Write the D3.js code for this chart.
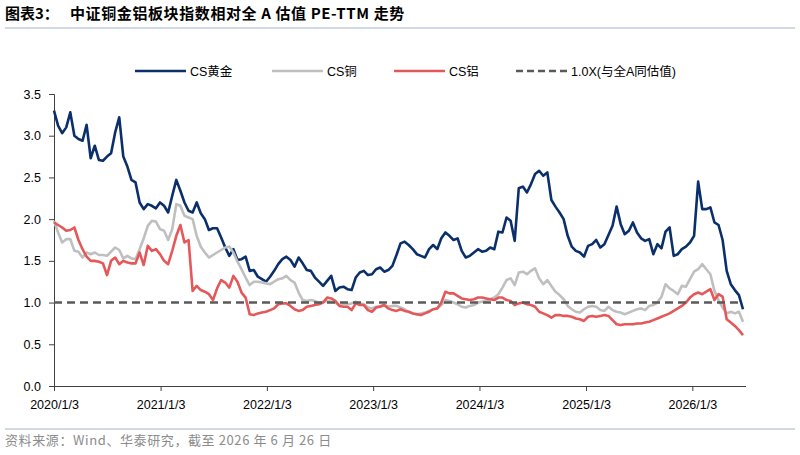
<!DOCTYPE html>
<html>
<head>
<meta charset="utf-8">
<script src="https://cdn.jsdelivr.net/npm/d3@7"></script>
<style>
  html, body { margin: 0; padding: 0; background: #fff; }
  svg { display: block; }
</style>
</head>
<body>
<div id="chart"></div>
<script>
// Relative PE-TTM vs. all-A, sampled every two weeks from 2020/1/3 to 2026/6/26
const startDate = new Date(2020, 0, 3);
const stepDays = 14;

const gold = [
  3.30,3.12,3.03,3.10,3.28,3.00,2.96,2.94,3.13,2.73,
  2.88,2.71,2.70,2.75,2.79,3.04,3.22,2.75,2.63,2.47,
  2.44,2.20,2.12,2.18,2.16,2.13,2.20,2.16,2.08,2.28,
  2.47,2.34,2.20,2.10,2.08,2.20,2.07,2.00,1.87,1.89,
  1.89,1.78,1.66,1.56,1.64,1.51,1.52,1.55,1.38,1.39,
  1.31,1.28,1.25,1.31,1.38,1.46,1.52,1.55,1.51,1.43,
  1.54,1.47,1.39,1.38,1.30,1.25,1.20,1.26,1.32,1.14,
  1.18,1.19,1.16,1.15,1.30,1.36,1.38,1.33,1.34,1.40,
  1.42,1.37,1.39,1.44,1.57,1.71,1.73,1.69,1.64,1.58,
  1.56,1.54,1.64,1.69,1.64,1.77,1.84,1.80,1.75,1.77,
  1.62,1.54,1.56,1.60,1.64,1.61,1.62,1.66,1.64,1.85,
  1.84,2.02,1.98,1.74,2.37,2.39,2.32,2.42,2.54,2.58,
  2.52,2.56,2.23,2.15,2.08,2.00,1.80,1.67,1.62,1.60,
  1.55,1.68,1.70,1.75,1.66,1.70,1.81,1.92,2.15,1.94,
  1.82,1.86,1.96,1.84,1.77,1.74,1.76,1.58,1.70,1.65,
  1.85,1.90,1.56,1.58,1.64,1.67,1.72,1.80,2.45,2.12,
  2.12,2.14,1.96,1.93,1.75,1.38,1.22,1.15,1.09,0.92
];

const copper = [
  1.98,1.84,1.72,1.76,1.76,1.62,1.61,1.54,1.60,1.58,
  1.60,1.57,1.57,1.56,1.61,1.66,1.63,1.53,1.56,1.53,
  1.52,1.64,1.77,1.92,1.98,1.97,1.88,1.86,1.75,1.88,
  2.18,2.16,2.04,2.02,2.00,1.80,1.67,1.60,1.54,1.57,
  1.60,1.63,1.66,1.67,1.60,1.49,1.40,1.30,1.21,1.25,
  1.25,1.24,1.23,1.22,1.25,1.28,1.29,1.32,1.27,1.24,
  1.12,1.03,1.02,1.03,1.02,0.99,1.01,1.02,1.01,1.00,
  0.97,0.98,0.98,0.99,1.01,0.99,0.98,0.94,0.93,0.95,
  0.96,0.97,0.95,0.96,0.96,0.94,0.92,0.89,0.87,0.86,
  0.87,0.88,0.90,0.92,0.93,0.97,1.03,1.02,1.00,0.98,
  0.95,0.94,0.96,0.97,1.00,1.01,1.02,1.04,1.06,1.10,
  1.18,1.27,1.29,1.21,1.36,1.37,1.34,1.38,1.41,1.29,
  1.22,1.27,1.20,1.13,1.09,1.04,0.96,0.92,0.89,0.88,
  0.92,0.95,0.96,0.95,0.91,0.90,0.95,0.91,0.89,0.88,
  0.86,0.88,0.90,0.92,0.93,0.91,0.96,0.97,1.00,1.07,
  1.22,1.17,1.14,1.10,1.20,1.19,1.28,1.37,1.40,1.46,
  1.40,1.34,1.14,1.03,0.94,0.87,0.89,0.87,0.89,0.77
];

const aluminum = [
  1.96,1.93,1.90,1.86,1.87,1.90,1.75,1.64,1.55,1.50,
  1.50,1.49,1.47,1.33,1.50,1.54,1.46,1.50,1.48,1.47,
  1.47,1.60,1.45,1.68,1.62,1.64,1.58,1.50,1.46,1.62,
  1.80,1.93,1.72,1.75,1.14,1.20,1.15,1.13,1.10,1.03,
  1.17,1.27,1.24,1.18,1.32,1.25,1.12,1.06,0.86,0.85,
  0.87,0.88,0.89,0.91,0.93,0.98,0.99,0.99,0.96,0.92,
  0.90,0.91,0.95,0.96,0.97,0.98,1.00,1.06,1.05,1.02,
  0.96,0.95,0.95,0.91,0.99,0.97,0.97,0.91,0.89,0.94,
  0.95,0.97,0.93,0.91,0.90,0.92,0.90,0.89,0.87,0.86,
  0.85,0.87,0.89,0.92,0.93,1.00,1.13,1.11,1.11,1.08,
  1.05,1.04,1.03,1.04,1.06,1.06,1.05,1.04,1.03,1.06,
  1.06,1.03,1.02,0.97,0.99,1.00,0.98,0.97,0.95,0.89,
  0.87,0.85,0.82,0.85,0.85,0.84,0.84,0.83,0.81,0.80,
  0.78,0.83,0.84,0.83,0.84,0.85,0.84,0.79,0.74,0.73,
  0.74,0.74,0.74,0.75,0.75,0.76,0.77,0.79,0.81,0.83,
  0.85,0.87,0.90,0.93,0.96,1.00,1.06,1.10,1.12,1.10,
  1.13,1.16,1.03,1.10,1.07,0.80,0.76,0.72,0.67,0.61
];

const baseline = 1.0;
const yTicks = [0, 0.5, 1.0, 1.5, 2.0, 2.5, 3.0, 3.5];
const xTickDates = ["2020/1/3", "2021/1/3", "2022/1/3", "2023/1/3", "2024/1/3", "2025/1/3", "2026/1/3"];

const seriesNames = ["CS黄金", "CS铜", "CS铝"];
const baselineName = "1.0X(与全A同估值)";
const titleLabel = "图表3：";
const titleText = "中证铜金铝板块指数相对全 A 估值 PE-TTM 走势";
const sourceText = "资料来源：Wind、华泰研究，截至 2026 年 6 月 26 日";

const colors = { gold: "#0b2f6b", copper: "#bfbfbf", aluminum: "#e5585a", base: "#595959" };

// Layout
const W = 800, H = 455;
const plot = { left: 54, right: 743, top: 94, bottom: 386 };
const fontLatin = "'Liberation Sans', Arial, 'Noto Sans CJK SC', sans-serif";
const fontCJK = "'Noto Sans CJK SC', 'Liberation Sans', sans-serif";

const dates = gold.map((_, i) => d3.timeDay.offset(startDate, i * stepDays));
const parseTick = d3.timeParse("%Y/%m/%d");

const svg = d3.select("#chart").append("svg")
  .attr("width", W)
  .attr("height", H);

// Title and rule under it
const title = svg.append("text")
  .attr("y", 19)
  .style("font-family", fontCJK)
  .style("font-size", "15px")
  .style("font-weight", "700")
  .style("fill", "#000");
title.append("tspan").attr("x", 5).text(titleLabel);
title.append("tspan").attr("x", 70).style("letter-spacing", "0.6px").text(titleText);

svg.append("line")
  .attr("x1", 5).attr("x2", 795)
  .attr("y1", 28).attr("y2", 28)
  .style("stroke", "#9fb3cf")
  .style("stroke-width", 1);

// Scales
const x = d3.scaleTime()
  .domain([dates[0], dates[dates.length - 1]])
  .range([plot.left, plot.right]);
const y = d3.scaleLinear()
  .domain([0, 3.5])
  .range([plot.bottom, plot.top]);

// Axes
const gy = svg.append("g")
  .attr("transform", `translate(${plot.left},0)`)
  .call(d3.axisLeft(y).tickValues(yTicks).tickFormat(d3.format(".1f")).tickSize(5).tickPadding(8));
gy.select(".domain").attr("stroke", "#404040");
gy.selectAll(".tick line").attr("stroke", "#404040");
gy.selectAll("text").style("font-family", fontLatin).style("font-size", "12.5px").style("fill", "#000");

const gx = svg.append("g")
  .attr("transform", `translate(0,${plot.bottom})`)
  .call(d3.axisBottom(x)
    .tickValues(xTickDates.map(parseTick))
    .tickFormat(d3.timeFormat("%Y/%-m/%-d"))
    .tickSize(5).tickPadding(9));
gx.select(".domain").attr("stroke", "#404040").attr("d", `M${plot.left},0.5H${plot.right + 3}`);
gx.selectAll(".tick line").attr("stroke", "#404040");
gx.selectAll("text").style("font-family", fontLatin).style("font-size", "12.5px").style("fill", "#000");

// Series lines
const line = d3.line()
  .x((d, i) => x(dates[i]))
  .y(d => y(d));

const series = [
  { key: "gold", values: gold, color: colors.gold },
  { key: "copper", values: copper, color: colors.copper },
  { key: "aluminum", values: aluminum, color: colors.aluminum }
];

svg.append("g").selectAll("path")
  .data(series)
  .join("path")
  .attr("d", d => line(d.values))
  .style("fill", "none")
  .style("stroke", d => d.color)
  .style("stroke-width", 2.6)
  .style("stroke-linejoin", "round");

// 1.0X reference
svg.append("line")
  .attr("x1", x(dates[0])).attr("x2", x(dates[dates.length - 1]))
  .attr("y1", y(baseline)).attr("y2", y(baseline))
  .style("stroke", colors.base)
  .style("stroke-width", 2.6)
  .style("stroke-dasharray", "8 5");

// Legend
const legendItems = [
  { name: seriesNames[0], color: colors.gold, x: 135, dash: null },
  { name: seriesNames[1], color: colors.copper, x: 272, dash: null },
  { name: seriesNames[2], color: colors.aluminum, x: 394, dash: null },
  { name: baselineName, color: colors.base, x: 516, dash: "7 4" }
];
const legend = svg.append("g").attr("transform", "translate(0,71)");
const li = legend.selectAll("g")
  .data(legendItems)
  .join("g")
  .attr("transform", d => `translate(${d.x},0)`);
li.append("line")
  .attr("x1", 0).attr("x2", 51)
  .attr("y1", 0).attr("y2", 0)
  .style("stroke", d => d.color)
  .style("stroke-width", 2.6)
  .style("stroke-dasharray", d => d.dash);
li.append("text")
  .attr("x", 55)
  .attr("y", 4.5)
  .style("font-family", fontLatin)
  .style("font-size", "12.5px")
  .style("fill", "#000")
  .text(d => d.name);

// Source footer
svg.append("line")
  .attr("x1", 5).attr("x2", 795)
  .attr("y1", 429).attr("y2", 429)
  .style("stroke", "#9fb3cf")
  .style("stroke-width", 1);

svg.append("text")
  .attr("x", 5)
  .attr("y", 445)
  .style("font-family", fontCJK)
  .style("font-size", "13px")
  .style("letter-spacing", "0.6px")
  .style("fill", "#8c8c8c")
  .text(sourceText);
</script>
</body>
</html>
